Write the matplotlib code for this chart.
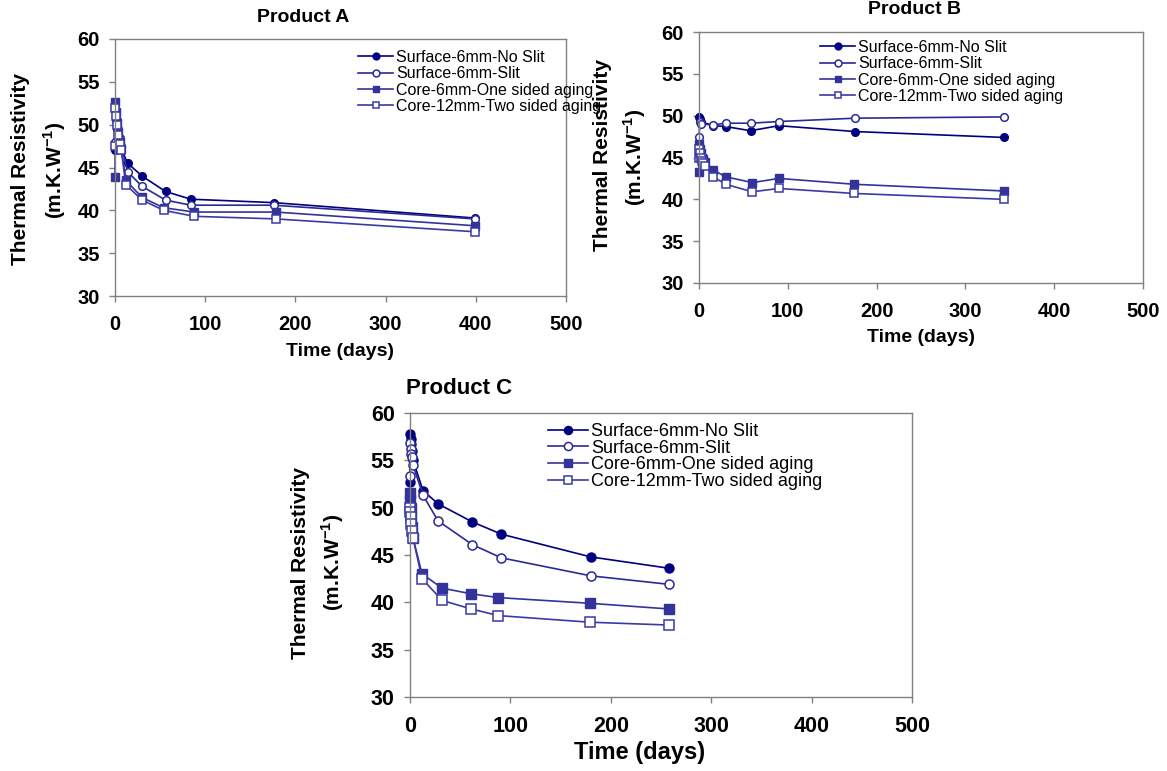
import matplotlib

matplotlib.use("Agg")
import matplotlib.pyplot as plt

plt.rcParams["font.family"] = ["Liberation Sans", "DejaVu Sans"]
plt.rcParams["mathtext.fontset"] = "custom"
plt.rcParams["mathtext.rm"] = "Liberation Sans"
plt.rcParams["mathtext.bf"] = "Liberation Sans:bold"

SERIES = ["Surface-6mm-No Slit", "Surface-6mm-Slit",
          "Core-6mm-One sided aging", "Core-12mm-Two sided aging"]

# ---- Product A ----
a_days_surf = [0, 1, 2, 3, 5, 7, 14, 30, 56, 84, 176, 399]
a_no_slit = [47.0, 50.5, 49.5, 48.8, 48.0, 47.2, 45.5, 44.0, 42.2, 41.3, 40.9, 39.1]
a_slit = [48.0, 51.5, 50.5, 49.5, 48.5, 47.5, 44.5, 42.8, 41.2, 40.6, 40.6, 39.0]
a_days_core = [0, 0.5, 1, 2, 3, 5, 7, 12, 30, 54, 88, 178, 399]
a_core6 = [43.9, 52.7, 51.5, 50.2, 49.0, 48.0, 47.2, 43.5, 41.5, 40.3, 39.8, 39.8, 38.2]
a_core12 = [47.5, 52.0, 51.0, 50.0, 48.8, 47.8, 47.0, 43.0, 41.2, 40.0, 39.3, 39.0, 37.5]

# ---- Product B ----
b_days_surf = [0, 1, 2, 16, 30, 58, 90, 176, 343]
b_no_slit = [49.9, 49.6, 49.3, 48.8, 48.7, 48.2, 48.8, 48.1, 47.4]
b_slit = [47.4, 49.2, 49.0, 48.9, 49.1, 49.1, 49.3, 49.7, 49.85]
b_days_core = [0, 0.5, 1, 2, 3, 5, 7, 16, 30, 60, 90, 175, 343]
b_core6 = [43.3, 46.6, 46.0, 45.5, 45.0, 44.8, 44.5, 43.5, 42.7, 42.0, 42.5, 41.8, 41.0]
b_core12 = [45.0, 46.0, 45.5, 45.0, 44.6, 44.3, 44.0, 42.7, 41.8, 40.9, 41.3, 40.7, 40.0]

# ---- Product C ----
c_days_surf = [0, 0.3, 0.6, 1, 2, 3, 13, 28, 62, 91, 180, 258]
c_no_slit = [52.7, 57.8, 57.3, 56.7, 56.0, 55.0, 51.8, 50.4, 48.5, 47.2, 44.8, 43.6]
c_slit = [53.3, 56.8, 56.2, 55.7, 55.4, 54.5, 51.3, 48.6, 46.1, 44.7, 42.8, 41.9]
c_days_core = [0, 0.3, 0.6, 1, 2, 3, 12, 32, 61, 88, 179, 258]
c_core6 = [51.5, 50.8, 50.0, 49.0, 48.0, 46.8, 43.0, 41.5, 40.9, 40.5, 39.9, 39.3]
c_core12 = [50.0, 49.5, 49.0, 48.3, 47.5, 46.8, 42.5, 40.2, 39.3, 38.6, 37.9, 37.6]

x_ticks = [0, 100, 200, 300, 400, 500]
y_ticks = [30, 35, 40, 45, 50, 55, 60]

COL_NS = "#000080"
COL_SL = "#2a2a96"
COL_C6 = "#333399"
COL_C12 = "#3a3aa6"
GRAY = "#808080"

W, H = 1167, 771
fig = plt.figure(figsize=(W / 100, H / 100), dpi=100)


def px_axes(left, top, right, bottom):
    return fig.add_axes([left / W, 1 - bottom / H, (right - left) / W, (bottom - top) / H])


def panel(ax, ds, ns, sl, dc, c6, c12, ms, tick_fs, leg_fs, leg_xy, leg_sp):
    kw = dict(linewidth=1.2, clip_on=False)
    ax.plot(ds, ns, "-o", color=COL_NS, markersize=ms, label=SERIES[0], **kw)
    ax.plot(ds, sl, "-o", color=COL_SL, markerfacecolor="white", markeredgewidth=1.1,
            markersize=ms, label=SERIES[1], **kw)
    ax.plot(dc, c6, "-s", color=COL_C6, markersize=ms, label=SERIES[2], **kw)
    ax.plot(dc, c12, "-s", color=COL_C12, markerfacecolor="white", markeredgewidth=1.1,
            markersize=ms, label=SERIES[3], **kw)
    ax.set_xlim(0, 500)
    ax.set_ylim(30, 60)
    ax.set_xticks(x_ticks)
    ax.set_yticks(y_ticks)
    for s in ax.spines.values():
        s.set_color(GRAY)
        s.set_linewidth(1.0)
    ax.tick_params(axis="both", direction="out", length=4, width=1.0, color=GRAY,
                   labelsize=tick_fs)
    ax.tick_params(axis="x", pad=10)
    ax.tick_params(axis="y", pad=7)
    for lab in ax.get_xticklabels() + ax.get_yticklabels():
        lab.set_fontweight("bold")
    ax.legend(loc="upper left", bbox_to_anchor=(leg_xy[0] / W, 1 - leg_xy[1] / H),
              bbox_transform=fig.transFigure, frameon=False, fontsize=leg_fs,
              borderpad=0, borderaxespad=0, handlelength=2.2, handletextpad=0.2,
              labelspacing=leg_sp, markerscale=0.9)


ax_a = px_axes(115, 39, 566, 296)
panel(ax_a, a_days_surf, a_no_slit, a_slit, a_days_core, a_core6, a_core12,
      5.5, 14.5, 11.5, (358, 50), 0.08)
ax_b = px_axes(699, 32, 1143, 283)
panel(ax_b, b_days_surf, b_no_slit, b_slit, b_days_core, b_core6, b_core12,
      5.5, 14.5, 11.5, (820, 40), 0.08)
ax_c = px_axes(410, 413, 912, 697)
panel(ax_c, c_days_surf, c_no_slit, c_slit, c_days_core, c_core6, c_core12,
      6.5, 15.5, 13, (548, 423), -0.02)


# titles, axis labels (placed in figure pixels)
def ftext(x, y, s, size, rot=0):
    fig.text(x / W, 1 - y / H, s, fontsize=size, fontweight="bold", rotation=rot,
             ha="center", va="center")


ftext(303, 17, "Product A", 14)
ftext(915, 10, "Product B", 14)
ftext(459, 388, "Product C", 16)

ftext(340, 352, "Time (days)", 14)
ftext(921, 337, "Time (days)", 14)
ftext(640, 752, "Time (days)", 17)

ylab2 = r"(m.K.W$^{\mathbf{-1}}$)"
ftext(21, 169, "Thermal Resistivity", 15, 90)
ftext(55, 170, ylab2, 15, 90)
ftext(602, 155, "Thermal Resistivity", 15, 90)
ftext(635, 157, ylab2, 15, 90)
ftext(300, 563, "Thermal Resistivity", 15, 90)
ftext(333, 562, ylab2, 15, 90)

fig.savefig("out.png", dpi=100)
